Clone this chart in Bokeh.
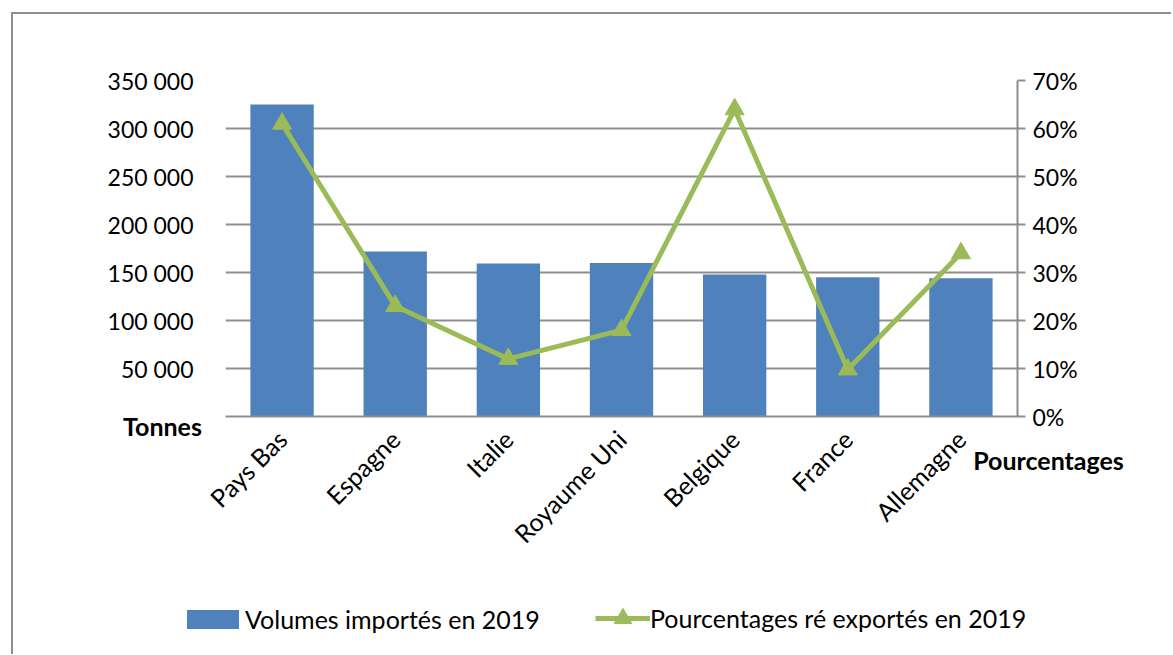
from bokeh.plotting import figure
from bokeh.layouts import column
from bokeh.models import (FactorRange, Range1d, LinearAxis, FixedTicker, NumeralTickFormatter,
                          Legend, LegendItem, Label, ColumnDataSource)
from bokeh.embed import file_html
from bokeh.resources import INLINE
from math import pi

# ---- data ----
countries = ["Pays Bas", "Espagne", "Italie", "Royaume Uni", "Belgique", "France", "Allemagne"]
volumes_2019 = [325000, 172000, 159500, 160000, 148000, 145000, 144000]
pct_reexport_2019 = [0.61, 0.23, 0.12, 0.18, 0.64, 0.098, 0.34]
tonnes_ticks = [0, 50000, 100000, 150000, 200000, 250000, 300000, 350000]
pct_ticks = [0, 0.1, 0.2, 0.3, 0.4, 0.5, 0.6, 0.7]
label_volumes = "Volumes importés en 2019"
label_pct = "Pourcentages ré exportés en 2019"
title_left = "Tonnes"
title_right = "Pourcentages"

FONT = "Lato"
FS = "25px"      # text labels
FSN = "23px"     # numeric tick labels
GRAY = "#8e8e8e"
BLUE = "#4f81bd"
GREEN = "#9bbb59"

src = ColumnDataSource(dict(country=countries, vol=volumes_2019, pct=pct_reexport_2019))

# ---------------- main chart ----------------
p = figure(x_range=FactorRange(*countries, range_padding=0), y_range=Range1d(0, 350000),
           width=1158, height=580, output_backend="svg", toolbar_location=None,
           min_border_left=212, min_border_right=154, min_border_top=66, min_border_bottom=178)
p.frame_align = False
p.outline_line_color = None
p.background_fill_color = "white"
p.border_fill_color = "white"

p.extra_y_ranges = {"pct": Range1d(0, 0.7)}

bars = p.vbar(x="country", top="vol", width=0.56, source=src, fill_color=BLUE, line_color=None)
line = p.line(x="country", y="pct", source=src, y_range_name="pct", line_color=GREEN, line_width=5)
pts = p.scatter(x="country", y="pct", source=src, y_range_name="pct", marker="triangle", size=19,
                fill_color=GREEN, line_color=GREEN)

# grid
p.xgrid.grid_line_color = None
p.ygrid.grid_line_color = GRAY
p.ygrid.grid_line_width = 2
p.ygrid.ticker = FixedTicker(ticks=tonnes_ticks)

# left axis
ya = p.yaxis[0]
ya.ticker = FixedTicker(ticks=tonnes_ticks)
ya.major_label_overrides = {t: ("" if t == 0 else f"{t:,}".replace(",", " ")) for t in tonnes_ticks}
ya.axis_line_color = None
ya.major_tick_line_color = None
ya.major_tick_out = 0
ya.major_tick_in = 0
ya.minor_tick_line_color = None
ya.major_label_standoff = 32
ya.major_label_text_font = FONT
ya.major_label_text_font_size = FSN
ya.major_label_text_color = "black"

# right axis
ra = LinearAxis(y_range_name="pct", ticker=FixedTicker(ticks=pct_ticks),
                formatter=NumeralTickFormatter(format="0%"))
ra.axis_line_color = GRAY
ra.axis_line_width = 2
ra.major_tick_line_color = GRAY
ra.major_tick_line_width = 2
ra.major_tick_in = 0
ra.major_tick_out = 8
ra.minor_tick_line_color = None
ra.major_label_standoff = 7
ra.major_label_text_font = FONT
ra.major_label_text_font_size = FSN
ra.major_label_text_color = "black"
p.add_layout(ra, "right")

# bottom axis
xa = p.xaxis[0]
xa.axis_line_color = GRAY
xa.axis_line_width = 2
xa.major_tick_line_color = None
xa.major_tick_out = 0
xa.major_tick_in = 0
xa.minor_tick_line_color = None
xa.major_label_orientation = pi / 4
xa.major_label_standoff = 18
xa.major_label_text_font = FONT
xa.major_label_text_font_size = FS
xa.major_label_text_color = "black"

# axis titles, placed in canvas pixels from a side panel so they are not clipped
p.add_layout(Label(x=149, y=411, x_units="canvas", y_units="canvas", text=title_left,
                   text_font=FONT, text_font_size=FS, text_font_style="bold",
                   text_align="center", text_baseline="middle", text_color="black"), "above")
p.add_layout(Label(x=1035, y=445, x_units="canvas", y_units="canvas", text=title_right,
                   text_font=FONT, text_font_size=FS, text_font_style="bold",
                   text_align="center", text_baseline="middle", text_color="black"), "above")

# ---------------- legend strip ----------------
# same series drawn out of view, only so that the legend can show their swatches
leg = figure(width=1158, height=60, output_backend="svg", toolbar_location=None,
             x_range=FactorRange(*countries, range_padding=0), y_range=Range1d(1e7, 2e7),
             x_axis_type=None, y_axis_type=None,
             min_border_left=0, min_border_right=0, min_border_top=0, min_border_bottom=0)
leg.frame_align = False
leg.outline_line_color = None
leg.background_fill_color = "white"
leg.border_fill_color = "white"
lb = leg.vbar(x="country", top="vol", width=0.56, source=src, fill_color=BLUE, line_color=None)
ll = leg.line(x="country", y="pct", source=src, line_color=GREEN, line_width=5)
ls = leg.scatter(x="country", y="pct", source=src, marker="triangle", size=19,
                 fill_color=GREEN, line_color=GREEN)

leg1 = Legend(items=[LegendItem(label=label_volumes, renderers=[lb])],
              location=(167, 20), border_line_color=None, background_fill_alpha=0,
              padding=0, margin=0, label_standoff=0, glyph_width=65, glyph_height=24,
              label_height=24, label_text_font=FONT, label_text_font_size=FS,
              label_text_color="black")
leg2 = Legend(items=[LegendItem(label=label_pct, renderers=[ll, ls])],
              location=(582, 14), border_line_color=None, background_fill_alpha=0,
              padding=0, margin=0, label_standoff=0, glyph_width=55, glyph_height=44,
              label_height=24, label_text_font=FONT, label_text_font_size=FS,
              label_text_color="black")
leg.add_layout(leg1)
leg.add_layout(leg2)

layout = column(p, leg, spacing=0,
                styles={"border-left": "2px solid #8e8e8e", "border-top": "2px solid #8e8e8e",
                        "margin-left": "11px", "margin-top": "12px"})

open("out.html", "w").write(file_html(layout, INLINE))
